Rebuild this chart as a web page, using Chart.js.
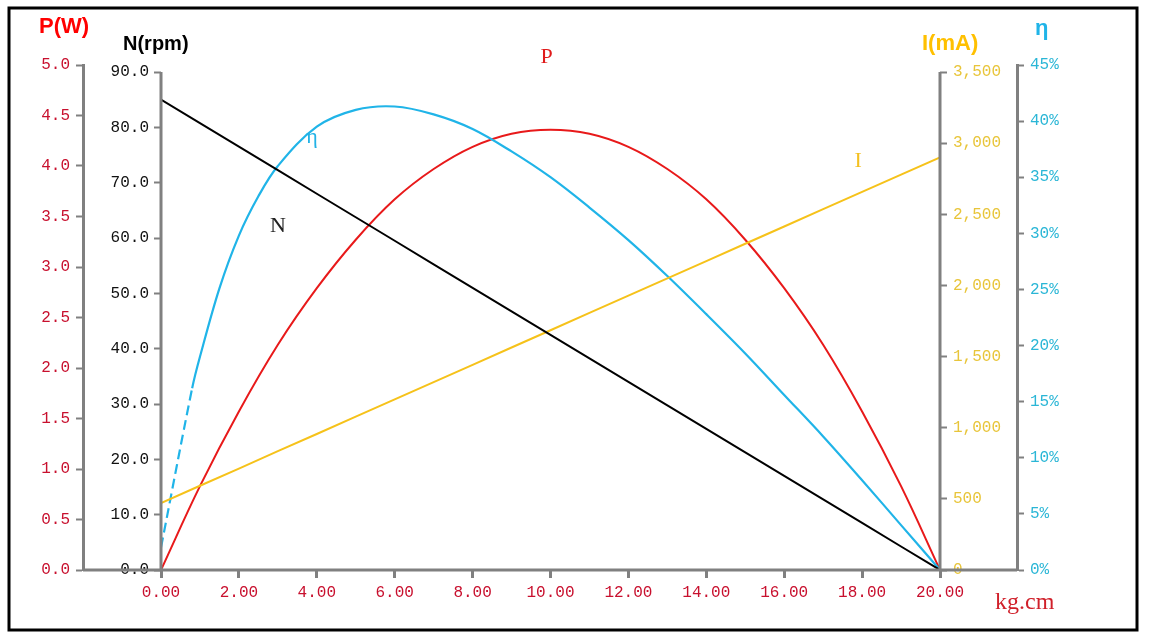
<!DOCTYPE html>
<html>
<head>
<meta charset="utf-8">
<script src="https://cdn.jsdelivr.net/npm/chart.js@4/dist/chart.umd.min.js"></script>
<style>
body{margin:0;background:#fff}
#wrap{width:1153px;height:640px}
</style>
</head>
<body>
<div id="wrap"><canvas id="motorChart" width="1153" height="640"></canvas></div>
<script>

// torque kg.cm
const torque=[0,1,2,3,4,5,6,7,8,9,10,11,12,13,14,15,16,17,18,19,20]
const speedN=[85,80.75,76.5,72.25,68,63.75,59.5,55.25,51,46.75,42.5,38.25,34,29.75,25.5,21.25,17,12.75,8.5,4.25,0]
const powerP=[0,0.83,1.57,2.23,2.79,3.27,3.67,3.97,4.19,4.32,4.36,4.32,4.19,3.97,3.67,3.27,2.79,2.23,1.57,0.83,0]
const currentI=[470,592,713,835,956,1078,1199,1321,1442,1564,1685,1807,1928,2050,2171,2293,2414,2536,2657,2779,2900]

// efficiency has its own x points (first piece is dashed)
const etaTorque=[0,0.8,1,1.5,2,2.5,3,4,5,6,7,8,9,10,11,12,13,14,15,16,17,18,19,20]
const etaValues=[2,16.2,19.0,25.1,29.8,33.3,36.0,39.5,41.0,41.3,40.6,39.3,37.3,35.0,32.3,29.4,26.2,22.8,19.3,15.6,11.9,8.0,4.0,0]

const xTicks=[0,2,4,6,8,10,12,14,16,18,20]
const pTicks=[0,0.5,1,1.5,2,2.5,3,3.5,4,4.5,5]
const nTicks=[0,10,20,30,40,50,60,70,80,90]
const iTicks=[0,500,1000,1500,2000,2500,3000,3500]
const etaTicks=[0,5,10,15,20,25,30,35,40,45]

const curveLabels=[
{text:"P",x:9.9,v:5.08,axis:"p",color:"#e01b1b"},
{text:"η",x:3.88,v:38.6,axis:"eta",color:"#22b2e6"},
{text:"N",x:3.0,v:62.2,axis:"n",color:"#222"},
{text:"I",x:17.9,v:2873,axis:"i",color:"#f4c020"}
]

const RED="#e8191a"
const BLUE="#20b4e8"
const GOLD="#f6c21a"
const GRAY="#808080"

function pts(xs,ys){
return xs.map((x,i)=>({x:x,y:ys[i]}))
}

function fixTicks(list){
return scale=>{ scale.ticks=list.map(v=>({value:v})) }
}

function fixWidth(w){
return scale=>{ scale.width=w }
}

const axisGrid={drawOnChartArea:false,drawTicks:true,tickLength:7,tickWidth:2,tickColor:GRAY}

const extras={
id:"extras",
afterDraw(chart){
const c=chart.ctx
const s=chart.scales
c.save()

c.strokeStyle=GRAY
c.lineWidth=3
c.beginPath()
c.moveTo(s.p.right,s.x.top)
c.lineTo(s.eta.left,s.x.top)
c.stroke()

// N and I axis lines only reach their top tick
c.beginPath()
c.moveTo(s.n.right,s.n.getPixelForValue(0))
c.lineTo(s.n.right,s.n.getPixelForValue(nTicks[nTicks.length-1]))
c.moveTo(s.i.left,s.i.getPixelForValue(0))
c.lineTo(s.i.left,s.i.getPixelForValue(iTicks[iTicks.length-1]))
c.stroke()

c.textAlign="center"
c.textBaseline="middle"
c.font="22px 'Liberation Serif'"
curveLabels.forEach(l=>{
c.fillStyle=l.color
c.fillText(l.text,s.x.getPixelForValue(l.x),s[l.axis].getPixelForValue(l.v))
})

c.textAlign="left"
c.textBaseline="alphabetic"
c.font="bold 22px 'Liberation Sans'"
c.fillStyle="#ff0000"
c.fillText("P(W)",39,33)
c.font="bold 20px 'Liberation Sans'"
c.fillStyle="#000"
c.fillText("N(rpm)",123,50)
c.font="bold 22px 'Liberation Sans'"
c.fillStyle="#ffc000"
c.fillText("I(mA)",922,50)
c.fillStyle=BLUE
c.fillText("η",1035,35)

c.font="24px 'Liberation Serif'"
c.fillStyle="#d0202a"
c.fillText("kg.cm",995,609)

c.strokeStyle="#000"
c.lineWidth=3
c.strokeRect(9,8,1128,622)
c.restore()
}
}

Chart.defaults.font.family="'Liberation Mono', monospace"
Chart.defaults.font.size=16

new Chart(document.getElementById("motorChart"),{
type:"line",
data:{
datasets:[
{
label:"N",
data:pts(torque,speedN),
yAxisID:"n",
borderColor:"#000",
borderWidth:2,
pointRadius:0,
tension:0
},
{
label:"I",
data:pts(torque,currentI),
yAxisID:"i",
borderColor:GOLD,
borderWidth:2,
pointRadius:0,
tension:0
},
{
label:"η",
data:pts(etaTorque,etaValues),
yAxisID:"eta",
borderColor:BLUE,
borderWidth:2.2,
pointRadius:0,
tension:0.35,
segment:{
borderDash:ctx=>ctx.p0DataIndex==0?[10,5]:undefined
}
},
{
label:"P",
data:pts(torque,powerP),
yAxisID:"p",
borderColor:RED,
borderWidth:2,
pointRadius:0,
tension:0.4
}
]
},
options:{
responsive:false,
animation:false,
layout:{padding:{left:20,right:76,top:65,bottom:30}},
plugins:{legend:{display:false},tooltip:{enabled:false}},
scales:{
x:{
type:"linear",
min:0,
max:20,
afterBuildTicks:fixTicks(xTicks),
afterFit:scale=>{ scale.height=40 },
border:{display:false},
grid:{drawOnChartArea:false,drawTicks:true,tickLength:8,tickWidth:3,tickColor:GRAY},
ticks:{color:"#c8102e",padding:5,maxRotation:0,callback:v=>v.toFixed(2)}
},
p:{
position:"left",
weight:2,
min:0,
max:5,
afterBuildTicks:fixTicks(pTicks),
afterFit:fixWidth(63),
border:{display:true,color:GRAY,width:3},
grid:axisGrid,
ticks:{color:"#c8102e",padding:6,callback:v=>v.toFixed(1)}
},
n:{
position:"left",
weight:1,
min:0,
max:90*505/498,
afterBuildTicks:fixTicks(nTicks),
afterFit:fixWidth(78),
border:{display:false},
grid:axisGrid,
ticks:{color:"#111",padding:5,callback:v=>v.toFixed(1)}
},
i:{
position:"right",
weight:1,
min:0,
max:3500*505/498,
afterBuildTicks:fixTicks(iTicks),
afterFit:fixWidth(77),
border:{display:false},
grid:axisGrid,
ticks:{color:"#e8c53a",padding:6,callback:v=>v.toLocaleString("en-US")}
},
eta:{
position:"right",
weight:2,
min:0,
max:45,
afterBuildTicks:fixTicks(etaTicks),
afterFit:fixWidth(60),
border:{display:true,color:GRAY,width:3},
grid:axisGrid,
ticks:{color:"#2ab6d6",padding:6,callback:v=>v+"%"}
}
}
},
plugins:[extras]
})

</script>
</body>
</html>
